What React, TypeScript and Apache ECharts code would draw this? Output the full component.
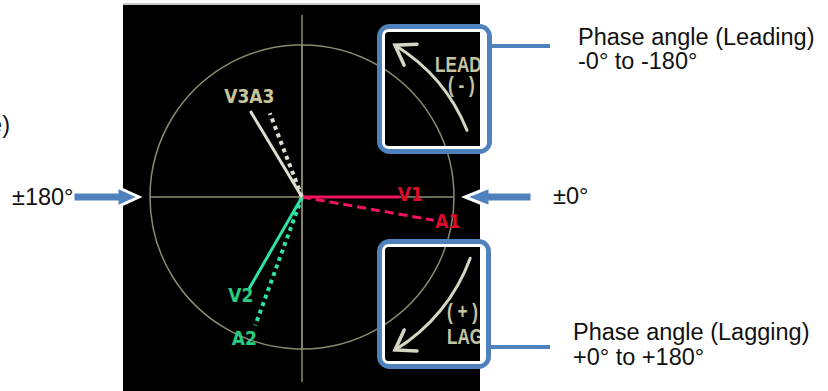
import React, { useEffect, useRef } from "react";
import * as echarts from "echarts";

// ---- data ----
const vectorNames = ["V1", "A1", "V2", "A2", "V3", "A3"];
// phase angle in degrees: negative = leading (up), positive = lagging (down)
const vectorAngles = [0, 10, 120, 110, -121, -111];
// magnitude in % of the outer circle radius
const vectorMagnitudes = [64, 88, 70, 90, 66, 59];
const vectorLabels = ["V1", "A1", "V2", "A2", "V3A3", ""];
const angleMin = -180;
const angleMax = 180;
const angleStep = 90;
const leftAngleLabel = "±180°";
const rightAngleLabel = "±0°";
const leadLines = ["Phase angle (Leading)", "-0° to -180°"];
const lagLines = ["Phase angle (Lagging)", "+0° to +180°"];
const leadBadge = ["LEAD", "( - )"];
const lagBadge = ["( + )", "LAG"];
const cutText = "e)";

// ---- styles ----
const CX = 302;
const CY = 197;
const R = 152;
const AXIS = "#8a8a70";
const BLUE = "#4f81bd";
const CREAM = "#d6d6c2";
const BADGE = "#c4c4a4";
const TXT = '"Liberation Sans", Arial, Helvetica, sans-serif';
const COND = '"DejaVu Sans Condensed", "Liberation Sans Narrow", sans-serif';

const lineColors = ["#f2145c", "#f2145c", "#30e2a4", "#30e2a4", "#deded0", "#deded0"];
const labelColors = ["#dc0a2c", "#dc0a2c", "#26cc80", "#26cc80", "#c6c69a", "#c6c69a"];
const lineTypes: any[] = ["solid", [9, 5], "solid", [4, 4], "solid", [4, 4]];
const lineWidths = [3, 3, 3, 4, 3, 4];
const labelOffsets = [[11, -3], [14, 1], [-8, 6], [-11, 12], [-1, -15], [0, 0]];

function arcArrow(r: number, fromDeg: number, toDeg: number, color: string) {
  const a0 = (fromDeg * Math.PI) / 180;
  const a1 = (toDeg * Math.PI) / 180;
  const tip = [CX + r * Math.cos(a1), CY + r * Math.sin(a1)];
  const sign = toDeg > fromDeg ? 1 : -1;
  const dir = [-Math.sin(a1) * sign, Math.cos(a1) * sign];
  const back = [-dir[0], -dir[1]];
  const L = 22;
  const rot = (v: number[], deg: number) => {
    const t = (deg * Math.PI) / 180;
    return [v[0] * Math.cos(t) - v[1] * Math.sin(t), v[0] * Math.sin(t) + v[1] * Math.cos(t)];
  };
  const w1 = rot(back, 34);
  const w2 = rot(back, -34);
  return [
    {
      type: "arc",
      z: 12,
      shape: {
        cx: CX,
        cy: CY,
        r,
        startAngle: Math.min(a0, a1),
        endAngle: Math.max(a0, a1),
        clockwise: true,
      },
      style: { stroke: color, lineWidth: 3, fill: null, lineCap: "round" },
      silent: true,
    },
    {
      type: "polyline",
      z: 12,
      shape: {
        points: [
          [tip[0] + w1[0] * L, tip[1] + w1[1] * L],
          tip,
          [tip[0] + w2[0] * L, tip[1] + w2[1] * L],
        ],
      },
      style: { stroke: color, lineWidth: 3.5, fill: null, lineCap: "round", lineJoin: "miter" },
      silent: true,
    },
  ];
}

function blueArrow(xTail: number, xBase: number, xTip: number, y: number) {
  const hs = 5;
  const hh = 10;
  return {
    type: "polygon",
    z: 40,
    shape: {
      points: [
        [xTail, y - hs],
        [xBase, y - hs],
        [xBase, y - hh],
        [xTip, y],
        [xBase, y + hh],
        [xBase, y + hs],
        [xTail, y + hs],
      ],
    },
    style: { fill: BLUE, stroke: "#ffffff", lineWidth: 3, lineJoin: "miter" },
    silent: true,
  };
}

function box(x: number, y: number, w: number, h: number) {
  return [
    {
      type: "rect",
      z: 40,
      shape: { x: x + 2.5, y: y + 2.5, width: w - 5, height: h - 5, r: 10 },
      style: { fill: null, stroke: BLUE, lineWidth: 5 },
      silent: true,
    },
    {
      type: "rect",
      z: 40,
      shape: { x: x + 6.5, y: y + 6.5, width: w - 13, height: h - 13, r: 5 },
      style: { fill: null, stroke: "#ffffff", lineWidth: 3 },
      silent: true,
    },
  ];
}

function txt(x: number, y: number, text: string, opts: any = {}) {
  return {
    type: "text",
    z: opts.z ?? 45,
    x,
    y,
    scaleX: opts.scaleX ?? 1,
    style: {
      text,
      fill: opts.fill ?? "#111111",
      font: opts.font ?? `23.5px ${TXT}`,
      align: opts.align ?? "left",
      verticalAlign: "middle",
      lineHeight: opts.lineHeight,
    },
    silent: true,
  };
}

export default function App() {
  const ref = useRef<HTMLDivElement>(null);

  useEffect(() => {
    if (!ref.current) return;
    const chart = echarts.init(ref.current, undefined, { renderer: "svg" });

    const series = vectorNames.map((name, i) => ({
      type: "line",
      name,
      coordinateSystem: "polar",
      silent: true,
      symbol: "circle",
      symbolSize: 0,
      showSymbol: true,
      z: 5 + (i % 2 === 0 ? 1 : 0),
      lineStyle: { color: lineColors[i], width: lineWidths[i], type: lineTypes[i], cap: "butt" },
      itemStyle: { color: lineColors[i] },
      label: { show: false },
      data: [
        [0, vectorAngles[i]],
        {
          value: [vectorMagnitudes[i], vectorAngles[i]],
          label: {
            show: vectorLabels[i] !== "",
            formatter: vectorLabels[i],
            position: "inside",
            offset: labelOffsets[i],
            color: labelColors[i],
            fontFamily: COND,
            fontWeight: "bold",
            fontSize: 19,
          },
        },
      ],
    }));

    const badgeFont = `bold 22px ${TXT}`;
    const graphic: any[] = [
      // black display panel
      {
        type: "rect",
        z: -10,
        shape: { x: 123, y: 5, width: 357, height: 386 },
        style: { fill: "#000000" },
        silent: true,
      },
      {
        type: "rect",
        z: -10,
        shape: { x: 123, y: 3, width: 357, height: 2 },
        style: { fill: "#c8c8c8" },
        silent: true,
      },
      // vertical cross-hair extension
      {
        type: "line",
        z: -5,
        shape: { x1: CX, y1: 15, x2: CX, y2: 382 },
        style: { stroke: AXIS, lineWidth: 1.5 },
        silent: true,
      },
      ...arcArrow(178, -22, -58.5, CREAM),
      ...arcArrow(179, 20, 58.7, CREAM),
      txt(435, 64, leadBadge[0], { font: badgeFont, fill: BADGE, z: 12, scaleX: 0.78 }),
      txt(448, 84, leadBadge[1], { font: badgeFont, fill: BADGE, z: 12, scaleX: 0.78 }),
      txt(447, 311, lagBadge[0], { font: badgeFont, fill: BADGE, z: 12, scaleX: 0.78 }),
      txt(447, 336, lagBadge[1], { font: badgeFont, fill: BADGE, z: 12, scaleX: 0.78 }),
      // white page to the right of the panel (clips the badge texts)
      {
        type: "rect",
        z: 20,
        shape: { x: 480, y: 0, width: 348, height: 391 },
        style: { fill: "#ffffff" },
        silent: true,
      },
      ...box(377, 24, 115, 130),
      ...box(377, 239, 114, 130),
      {
        type: "line",
        z: 40,
        shape: { x1: 491, y1: 46, x2: 550, y2: 46 },
        style: { stroke: BLUE, lineWidth: 4 },
        silent: true,
      },
      {
        type: "line",
        z: 40,
        shape: { x1: 490, y1: 347, x2: 550, y2: 347 },
        style: { stroke: BLUE, lineWidth: 4 },
        silent: true,
      },
      blueArrow(73, 117, 139, 197),
      blueArrow(532, 490, 465, 197),
      txt(12, 197, leftAngleLabel),
      txt(553, 196, rightAngleLabel),
      txt(578, 48.5, leadLines.join("\n"), { lineHeight: 24 }),
      txt(573, 344.5, lagLines.join("\n"), { lineHeight: 25 }),
      txt(10, 125, cutText, { align: "right" }),
    ];

    chart.setOption({
      animation: false,
      polar: { center: [CX, CY], radius: [0, R] },
      angleAxis: {
        type: "value",
        min: angleMin,
        max: angleMax,
        interval: angleStep,
        startAngle: 180,
        clockwise: true,
        axisLine: { show: true, lineStyle: { color: AXIS, width: 1.5 } },
        axisTick: { show: false },
        axisLabel: { show: false },
        splitLine: { show: true, lineStyle: { color: AXIS, width: 1.5 } },
      },
      radiusAxis: {
        type: "value",
        min: 0,
        max: 100,
        show: false,
      },
      series,
      graphic,
    });

    return () => chart.dispose();
  }, []);

  return (
    <div
      ref={ref}
      style={{ position: "absolute", left: 0, top: 0, width: 828, height: 391, background: "#ffffff" }}
    />
  );
}
